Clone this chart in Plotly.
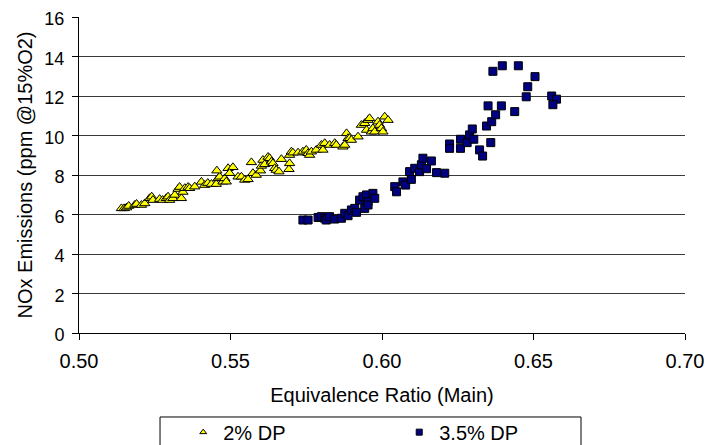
import plotly.graph_objects as go

# 2% DP series (yellow triangles)
dp2_phi = [0.5140, 0.5149, 0.5157, 0.5164, 0.5184, 0.5190, 0.5206, 0.5217, 0.5233, 0.5240,
           0.5244, 0.5266, 0.5276, 0.5288, 0.5294, 0.5299, 0.5310, 0.5316, 0.5327, 0.5332,
           0.5338, 0.5343, 0.5349, 0.5360, 0.5365, 0.5382, 0.5404, 0.5415, 0.5425, 0.5437,
           0.5453, 0.5459, 0.5464, 0.5475, 0.5481, 0.5486, 0.5455, 0.5492, 0.5508, 0.5497,
           0.5525, 0.5536, 0.5547, 0.5558, 0.5569, 0.5574, 0.5585, 0.5599, 0.5602, 0.5607,
           0.5613, 0.5624, 0.5629, 0.5635, 0.5640, 0.5646, 0.5651, 0.5660, 0.5668, 0.5693,
           0.5695, 0.5695, 0.5701, 0.5706, 0.5723, 0.5739, 0.5750, 0.5756, 0.5761, 0.5767,
           0.5783, 0.5800, 0.5805, 0.5811, 0.5827, 0.5844, 0.5849, 0.5871, 0.5877, 0.5883,
           0.5888, 0.5893, 0.5899, 0.5921, 0.5932, 0.5943, 0.5949, 0.5954, 0.5959, 0.5965,
           0.5970, 0.5976, 0.5987, 0.5992, 0.5998, 0.6003, 0.6009, 0.6020]
dp2_nox = [6.31, 6.31, 6.35, 6.43, 6.48, 6.53, 6.48, 6.56, 6.82, 6.90,
           6.73, 6.78, 6.73, 6.82, 6.90, 6.73, 6.82, 6.99, 7.29, 7.39,
           6.82, 7.14, 7.33, 7.39, 7.33, 7.41, 7.65, 7.49, 7.59, 7.54,
           7.54, 7.83, 7.91, 7.66, 7.83, 7.66, 8.22, 8.34, 8.39, 8.09,
           7.91, 7.91, 7.75, 7.78, 8.64, 8.09, 8.00, 8.22, 8.46, 8.76,
           8.54, 8.91, 8.85, 8.67, 8.59, 8.34, 8.25, 8.17, 8.80, 8.29,
           8.59, 9.01, 9.18, 9.13, 9.13, 9.18, 9.27, 9.10, 9.01, 9.18,
           9.27, 9.52, 9.27, 9.61, 9.52, 9.61, 9.52, 9.43, 9.52, 10.11,
           9.86, 9.86, 9.77, 9.94, 10.53, 10.62, 10.28, 10.78, 10.87, 10.19,
           10.36, 10.19, 10.70, 10.53, 10.36, 10.19, 10.95, 10.78]

# 3.5% DP series (navy squares)
dp35_phi = [0.5739, 0.5756, 0.5789, 0.5800, 0.5811, 0.5816, 0.5827, 0.5844, 0.5866, 0.5877,
            0.5888, 0.5899, 0.5910, 0.5916, 0.5926, 0.5937, 0.5943, 0.5949, 0.5954, 0.5954,
            0.5970, 0.5976, 0.6042, 0.6048, 0.6069, 0.6078, 0.6097, 0.6091, 0.6108, 0.6124,
            0.6130, 0.6135, 0.6147, 0.6163, 0.6180, 0.6207, 0.6223, 0.6223, 0.6259, 0.6259,
            0.6281, 0.6289, 0.6298, 0.6303, 0.6322, 0.6332, 0.6345, 0.6359, 0.6362, 0.6375,
            0.6350, 0.6394, 0.6438, 0.6366, 0.6397, 0.6450, 0.6505, 0.6481, 0.6476, 0.6560,
            0.6576, 0.6564]
dp35_nox = [5.72, 5.72, 5.85, 5.89, 5.81, 5.72, 5.89, 5.77, 5.81, 6.06,
            5.94, 6.23, 6.31, 6.11, 6.73, 6.90, 6.31, 6.99, 6.65, 6.48,
            7.07, 6.82, 7.41, 7.15, 7.65, 7.49, 7.78, 8.17, 8.34, 8.17,
            8.52, 8.85, 8.32, 8.71, 8.12, 8.09, 9.57, 9.35, 9.81, 9.35,
            9.64, 10.03, 10.33, 9.81, 9.27, 8.96, 10.48, 9.64, 10.70, 11.05,
            11.50, 11.50, 11.21, 13.25, 13.53, 13.53, 12.98, 12.47, 11.96, 12.00,
            11.84, 11.56]

x_ticks = [0.50, 0.55, 0.60, 0.65, 0.70]
y_ticks = [0, 2, 4, 6, 8, 10, 12, 14, 16]

FONT = "Liberation Sans, Arial, sans-serif"
FS = 20

fig = go.Figure()
fig.add_trace(go.Scatter(
    x=dp2_phi, y=dp2_nox, mode="markers", name="2% DP", showlegend=False,
    marker=dict(symbol="triangle-up", size=9, color="#FFFF00",
                line=dict(color="#000000", width=1)),
))
fig.add_trace(go.Scatter(
    x=dp35_phi, y=dp35_nox, mode="markers", name="3.5% DP", showlegend=False,
    marker=dict(symbol="square", size=8, color="#000080",
                line=dict(color="#000000", width=1)),
))
# legend entries with the small legend-size markers
fig.add_trace(go.Scatter(
    x=[None], y=[None], mode="markers", name="2% DP",
    marker=dict(symbol="triangle-up", size=6, color="#FFFF00",
                line=dict(color="#000000", width=1)),
))
fig.add_trace(go.Scatter(
    x=[None], y=[None], mode="markers", name="3.5% DP",
    marker=dict(symbol="square", size=6, color="#000080",
                line=dict(color="#000000", width=1)),
))

# page body has an 8px margin, so the figure is drawn 8px in from the top-left
fig.update_layout(
    width=712, height=437,
    margin=dict(l=71, r=35, t=9, b=112, autoexpand=False),
    paper_bgcolor="white", plot_bgcolor="white",
    font=dict(family=FONT, size=FS, color="black"),
    showlegend=True,
    legend=dict(orientation="h", x=0.172, y=-0.252, xanchor="left", yanchor="top",
                bgcolor="rgba(0,0,0,0)", borderwidth=0,
                font=dict(size=FS), entrywidth=171, entrywidthmode="pixels",
                itemsizing="trace"),
    shapes=[dict(type="rect", xref="paper", yref="paper",
                 x0=0.1337, x1=0.8284, y0=-0.45, y1=-0.2658,
                 line=dict(color="black", width=1), fillcolor="rgba(0,0,0,0)")],
)
fig.update_xaxes(
    range=[0.5, 0.7], tickvals=x_ticks, tickformat=".2f",
    showgrid=False, zeroline=False, automargin=False,
    showline=True, linecolor="black", linewidth=1,
    ticks="outside", ticklen=6, tickcolor="black", ticklabelstandoff=4,
    ticklabeloverflow="allow",
    tickfont=dict(size=FS),
    title=dict(text="Equivalence Ratio (Main)", font=dict(size=FS), standoff=16),
)
fig.update_yaxes(
    range=[0, 16], tickvals=y_ticks,
    showgrid=True, gridcolor="#3a3a3a", gridwidth=1, zeroline=False, automargin=False,
    showline=True, linecolor="black", linewidth=1,
    ticks="outside", ticklen=6, tickcolor="black", ticklabelstandoff=4,
    ticklabelshift=2, ticklabeloverflow="allow",
    tickfont=dict(size=18),
    title=dict(text="NOx Emissions (ppm @15%O2)", font=dict(size=FS), standoff=6),
)

fig.write_html("out.html")
